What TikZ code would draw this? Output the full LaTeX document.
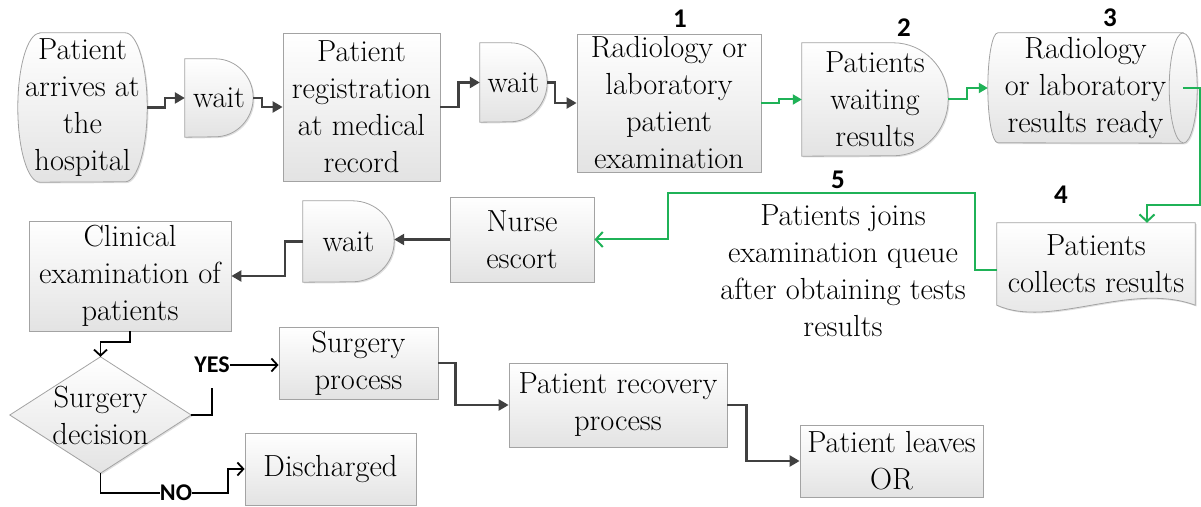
\documentclass[tikz,border=0pt]{standalone}
\usepackage{fontspec}
\newfontfamily\numfont{Carlito}
\usetikzlibrary{arrows.meta,shadows,backgrounds}

\definecolor{linegray}{HTML}{404040}
\definecolor{edgegray}{HTML}{A3A3A3}
\definecolor{flowgreen}{HTML}{1FB257}

\tikzset{
  txt/.style={align=center, font=\rmfamily\fontsize{30.5}{37}\selectfont, inner sep=0pt},
  fillshade/.style={top color=white, bottom color=black!11,
    drop shadow={shadow xshift=1.3pt, shadow yshift=-1.3pt, opacity=0.25}},
  proc/.style={txt, rectangle, draw=edgegray, line width=0.8pt, fillshade},
  hold/.style={txt, rectangle},
  outline/.style={draw=edgegray, line width=0.8pt, fillshade},
  edgeline/.style={draw=edgegray, line width=0.8pt},
  flow/.style={draw=linegray, line width=2.4pt, -{Triangle[length=10pt,width=11pt]}},
  gflow/.style={draw=flowgreen, line width=2pt, -{Triangle[length=9pt,width=10pt]}},
  gopen/.style={draw=flowgreen, line width=2pt, -{Straight Barb[length=7pt,width=15pt,line width=2pt]}},
  bline/.style={draw=black, line width=1.8pt},
  bflow/.style={bline, -{Straight Barb[length=6pt,width=13pt,line width=1.8pt]}},
  num/.style={font=\numfont\bfseries\fontsize{27}{27}\selectfont, inner sep=0pt},
  yn/.style={font=\numfont\bfseries\fontsize{24}{24}\selectfont, inner sep=0pt}
}

\begin{document}
\begin{tikzpicture}[x=1pt, y=1pt]
\useasboundingbox (0,0) rectangle (1201,506);

% --- top row: arrival, registration and tests ---
\node[hold, minimum width=129pt, minimum height=149pt] (arr) at (82.5,398.5) {Patient\\arrives at\\the\\hospital};
\node[hold, minimum width=68pt, minimum height=78pt] (w1) at (219,408) {wait};
\node[proc, minimum width=157pt, minimum height=148pt] (reg) at (361.5,399) {Patient\\registration\\at medical\\record};
\node[hold, minimum width=67pt, minimum height=79pt] (w2) at (513.5,423.5) {wait};
\node[proc, minimum width=184pt, minimum height=138pt] (exam) at (669,403) {Radiology or\\laboratory\\patient\\examination};
\node[hold, minimum width=146pt, minimum height=113pt] (wres) at (875,406.5) {Patients\\waiting\\results};
\node[hold, minimum width=195pt, minimum height=110pt] (rdy) at (1085.5,418) {Radiology\\or laboratory\\results ready};

% --- middle row ---
\node[hold, minimum width=198pt, minimum height=82pt] (coll) at (1096,242) {Patients\\collects results};
\node[txt] (q5) at (843,235) {Patients joins\\examination queue\\after obtaining tests\\results};
\node[proc, minimum width=144pt, minimum height=85pt] (nurse) at (522,266.5) {Nurse\\escort};
\node[hold, minimum width=91pt, minimum height=81pt] (w3) at (348.5,264.5) {wait};
\node[proc, minimum width=202pt, minimum height=110pt] (clin) at (130,230) {Clinical\\examination of\\patients};

% --- bottom row: decision and outcomes ---
\node[hold, minimum width=181pt, minimum height=116pt] (dec) at (100.5,91) {Surgery\\decision};
\node[proc, minimum width=159pt, minimum height=72pt] (surg) at (358.5,143) {Surgery\\process};
\node[proc, minimum width=218pt, minimum height=84pt] (rec) at (618,101) {Patient recovery\\process};
\node[proc, minimum width=183pt, minimum height=72pt] (lea) at (891.5,45) {Patient leaves\\OR};
\node[proc, minimum width=171pt, minimum height=72pt] (dis) at (330.5,37) {Discharged};

% --- step numbers and branch labels ---
\node[num] (n1) at (680,487) {1};
\node[num] (n2) at (904,478) {2};
\node[num] (n3) at (1110,488) {3};
\node[num] (n4) at (1061,311) {4};
\node[num] (n5) at (838,326) {5};
\node[yn] (yes) at (212,141) {YES};
\node[yn] (no) at (176,13) {NO};

% --- shape outlines behind the texts ---
\begin{scope}[on background layer]
  \path[outline] ([xshift=22pt]arr.north west) -- ([xshift=-22pt]arr.north east)
    arc[start angle=90, end angle=-90, x radius=22pt, y radius=74.5pt]
    -- ([xshift=22pt]arr.south west)
    arc[start angle=270, end angle=90, x radius=22pt, y radius=74.5pt] -- cycle;
  \path[outline] (w1.south west) -- (w1.north west) -- ([xshift=-38pt]w1.north east)
    arc[start angle=90, end angle=-90, x radius=38pt, y radius=39pt] -- cycle;
  \path[outline] (w2.south west) -- (w2.north west) -- ([xshift=-37pt]w2.north east)
    arc[start angle=90, end angle=-90, x radius=37pt, y radius=39.5pt] -- cycle;
  \path[outline] (w3.south west) -- (w3.north west) -- ([xshift=-42pt]w3.north east)
    arc[start angle=90, end angle=-90, x radius=42pt, y radius=40.5pt] -- cycle;
  \path[outline] (wres.south west) -- (wres.north west) -- ([xshift=-55pt]wres.north east)
    arc[start angle=90, end angle=-90, x radius=55pt, y radius=56.5pt] -- cycle;
  \path[outline] (rdy.north east) -- ([xshift=10pt]rdy.north west)
    arc[start angle=90, end angle=270, x radius=10pt, y radius=55pt]
    -- (rdy.south east)
    arc[start angle=-90, end angle=90, x radius=14pt, y radius=55pt] -- cycle;
  \draw[edgeline] (rdy.north east) arc[start angle=90, end angle=270, x radius=14pt, y radius=55pt];
  \path[outline] (coll.south west) -- (coll.north west) -- (coll.north east) -- (coll.south east)
    .. controls +(-65,24) and +(53,-24) .. (coll.south west) -- cycle;
  \path[outline] (dec.north) -- (dec.east) -- (dec.south) -- (dec.west) -- cycle;
\end{scope}

% --- connectors ---
\draw[flow] (arr.east) -- ++(18,0) |- (w1.west);
\draw[flow] (w1.east) -- ++(9,0) |- (reg.west);
\draw[flow] (reg.east) -- ++(18,0) |- (w2.west);
\draw[flow] (w2.east) -- ++(8,0) |- (exam.west);
\draw[gflow] (exam.east) -- ++(18,0) |- (wres.west);
\draw[gflow] (wres.east) -- ++(19,0) |- (rdy.west);

\coordinate (c3) at (1200,301);
\draw[gopen] (rdy.east) -| (c3) -| ([xshift=51pt]coll.north);

\coordinate (c5a) at (975,313);
\coordinate (c5b) at (668,313);
\draw[gopen] ([yshift=-6pt]coll.west) -| (c5a) -- (c5b) |- (nurse.east);

\draw[flow] (nurse.west) -- (nurse.west -| w3.east);
\draw[flow] (w3.west) -- ++(-18,0) |- (clin.east);
\draw[bflow] (clin.south) -- ++(0,-11) -| (dec.north);

\draw[bline] (dec.east) -| ([yshift=-15pt]yes.south);
\draw[bflow] (yes.east) -- (yes.east -| surg.west);
\draw[bline] (dec.south) |- (no.west);
\draw[bflow] (no.east) -- ++(36,0) |- (dis.west);

\draw[flow] (surg.east) -- ++(17,0) |- (rec.west);
\draw[flow] (rec.east) -- ++(19,0) |- (lea.west);
\end{tikzpicture}
\end{document}
